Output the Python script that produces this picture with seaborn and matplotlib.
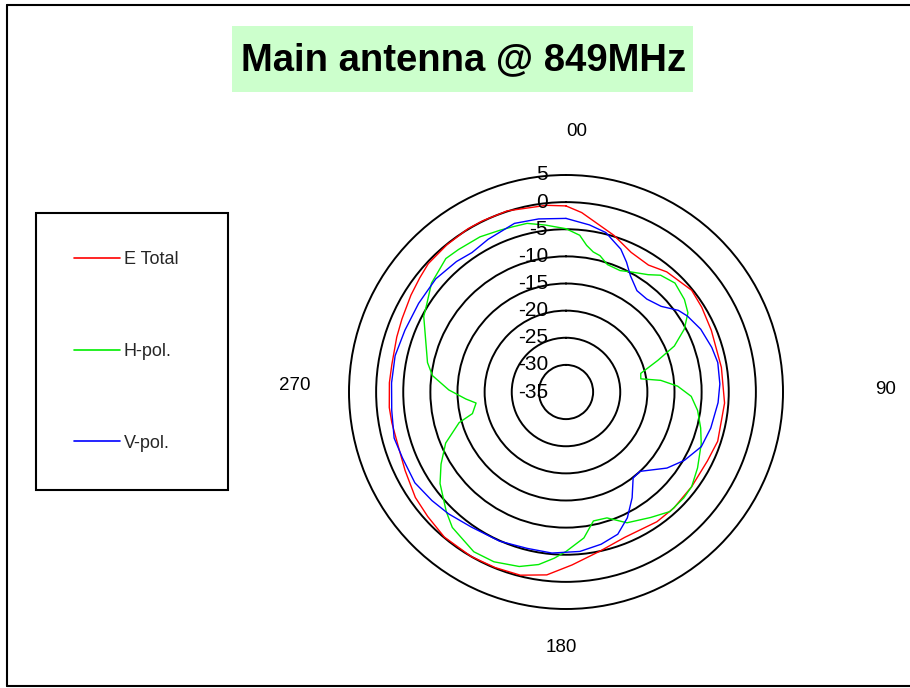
import numpy as np
import pandas as pd
import matplotlib
matplotlib.use("Agg")
import matplotlib.pyplot as plt
from matplotlib.patches import Rectangle
from matplotlib.lines import Line2D
from matplotlib.transforms import offset_copy
import seaborn as sns

# Measured pattern at 849 MHz: azimuth (deg, clockwise from top) and level (dB)
e_total_deg = [0, 5, 17, 25, 33, 40, 51, 58, 67, 81,
               94, 108, 116, 127, 137, 145, 158, 168, 178, 186,
               194, 202, 210, 220, 228, 235, 244, 252, 260, 265,
               273, 279, 288, 294, 302, 308, 313, 321, 329, 334,
               342, 354]
e_total_db = [-0.7, -1.8, -4.8, -6.6, -7.1, -6.1, -5.2, -5.5, -5.9, -6.0,
              -5.7, -5.6, -6.0, -6.0, -5.8, -5.8, -6.1, -5.0, -3.1, -1.1,
              -0.2, -0.1, 0.0, -0.1, -0.7, -1.1, -2.0, -2.5, -2.4, -2.3,
              -2.4, -2.5, -2.2, -1.9, -1.3, -0.8, -0.3, -0.1, 0.1, 0.1,
              0.1, -0.4]

h_pol_deg = [0, 5, 8, 11, 14, 18, 24, 28, 35, 39,
             45, 52, 57, 62, 67, 71, 76, 80, 83, 87,
             92, 98, 105, 111, 120, 127, 132, 139, 146, 155,
             162, 168, 173, 180, 184, 189, 195, 203, 210, 220,
             225, 234, 240, 247, 254, 257, 263, 266, 271, 277,
             282, 289, 298, 302, 309, 318, 323, 331, 338, 342,
             347, 353]
h_pol_db = [-4.9, -6.0, -7.7, -8.7, -9.1, -10.3, -10.5, -9.9, -8.6, -7.3,
            -6.6, -7.3, -8.2, -10.3, -13.3, -17.1, -20.8, -21.0, -17.4, -14.4,
            -11.9, -10.5, -9.3, -8.3, -7.0, -6.0, -5.8, -5.8, -7.1, -8.4,
            -10.6, -10.7, -7.9, -5.6, -4.3, -2.8, -1.7, -1.0, -1.0, -2.4,
            -3.8, -6.3, -8.4, -10.9, -14.5, -17.3, -18.3, -16.5, -13.4, -10.2,
            -8.9, -7.7, -5.3, -4.7, -3.1, -1.9, -2.1, -2.3, -2.8, -3.0,
            -3.1, -4.0]

v_pol_deg = [0, 8, 14, 21, 25, 29, 35, 41, 48, 54,
             58, 65, 73, 79, 87, 94, 104, 112, 120, 127,
             137, 142, 148, 154, 160, 167, 175, 185, 194, 204,
             215, 224, 231, 239, 248, 255, 264, 273, 282, 291,
             301, 311, 320, 326, 333, 343, 351]
v_pol_db = [-3.0, -3.9, -4.7, -6.8, -8.6, -10.5, -12.2, -12.3, -11.4, -9.4,
            -8.6, -7.6, -6.9, -6.5, -6.6, -6.9, -7.5, -8.1, -9.8, -11.7,
            -15.0, -14.9, -12.0, -9.2, -7.1, -6.2, -5.5, -5.2, -5.3, -4.9,
            -4.6, -3.8, -3.2, -2.5, -2.5, -2.2, -2.7, -2.8, -2.8, -3.2,
            -3.3, -3.2, -3.6, -4.0, -3.4, -2.5, -2.7]

series_names = ["E Total", "H-pol.", "V-pol."]
series_colors = ["#ff0000", "#00ee00", "#0000ff"]
ring_values = [5, 0, -5, -10, -15, -20, -25, -30, -35]
angle_labels = ["00", "90", "180", "270"]
title_text = "Main antenna @ 849MHz"

# Long-form table, each trace closed back onto its first sample
frames = []
for name, deg, db in zip(series_names,
                         [e_total_deg, h_pol_deg, v_pol_deg],
                         [e_total_db, h_pol_db, v_pol_db]):
    d = np.append(np.asarray(deg, float), deg[0] + 360.0)
    v = np.append(np.asarray(db, float), db[0])
    frames.append(pd.DataFrame({"theta": np.deg2rad(d), "level": v,
                                "series": name}))
df = pd.concat(frames, ignore_index=True)

sns.set_style("white")
plt.rcParams["font.family"] = ["Liberation Sans", "DejaVu Sans"]

W, H = 910, 688
fig = plt.figure(figsize=(W / 100, H / 100), dpi=100)
fig.patch.set_facecolor("white")

# polar area: centre (566, 392) px, outer ring radius 217 px
cx, cy, R = 566, 392, 217
ax = fig.add_axes([(cx - R) / W, (H - cy - R) / H, 2 * R / W, 2 * R / H],
                  projection="polar")
ax.set_theta_zero_location("N")
ax.set_theta_direction(-1)
ax.set_ylim(-35, 5)
ax.set_facecolor("none")

sns.lineplot(data=df, x="theta", y="level", hue="series",
             palette=dict(zip(series_names, series_colors)),
             hue_order=series_names, sort=False, estimator=None,
             linewidth=1.0, legend=False, ax=ax)

ax.set_xlabel("")
ax.set_ylabel("")
ax.set_xticks([])
ax.set_yticks(ring_values[1:-1])
ax.set_yticklabels([])
ax.yaxis.grid(True, color="black", linewidth=1.4)
ax.xaxis.grid(False)
ax.spines["polar"].set_color("black")
ax.spines["polar"].set_linewidth(1.4)

# ring values along the upward axis
lab_tr = offset_copy(ax.transData, fig=fig, x=-18, y=0, units="dots")
for v in ring_values:
    ax.text(0, v, str(v), transform=lab_tr, ha="right", va="center",
            fontsize=15, color="black", clip_on=False, zorder=5)

# compass labels
angle_pos = [(577, 132), (886, 390), (561, 648), (295, 385)]
for txt, (px, py) in zip(angle_labels, angle_pos):
    fig.text(px / W, 1 - py / H, txt, ha="center", va="center",
             fontsize=13.5, color="black")

# title on a pale green band
fig.patches.append(Rectangle((232 / W, 1 - 92 / H), 461 / W, 66 / H,
                             transform=fig.transFigure, facecolor="#ccffcc",
                             edgecolor="none", zorder=0))
fig.text(464 / W, 1 - 60 / H, title_text, ha="center", va="center",
         fontsize=27.5, fontweight="bold", color="black")

# legend box on the left
handles = [Line2D([], [], color=c, linewidth=1.2) for c in series_colors]
leg = fig.legend(handles, series_names, loc="upper left",
                 bbox_to_anchor=(36 / W, 1 - 213 / H, 192 / W, 0),
                 mode="expand", fontsize=13, handlelength=2.55,
                 handletextpad=0.2, borderpad=2.1, labelspacing=4.15,
                 borderaxespad=0, frameon=True, fancybox=False,
                 framealpha=1, edgecolor="black")
leg.get_frame().set_linewidth(1.5)

# outer frame of the chart area
fig.add_artist(Line2D([7 / W, 7 / W], [2 / H, 1 - 5 / H], color="black",
                      linewidth=1.5, transform=fig.transFigure))
fig.add_artist(Line2D([7 / W, 1.0], [1 - 5 / H, 1 - 5 / H], color="black",
                      linewidth=1.5, transform=fig.transFigure))
fig.add_artist(Line2D([7 / W, 1.0], [2 / H, 2 / H], color="black",
                      linewidth=1.5, transform=fig.transFigure))

fig.savefig("out.png", dpi=100)
